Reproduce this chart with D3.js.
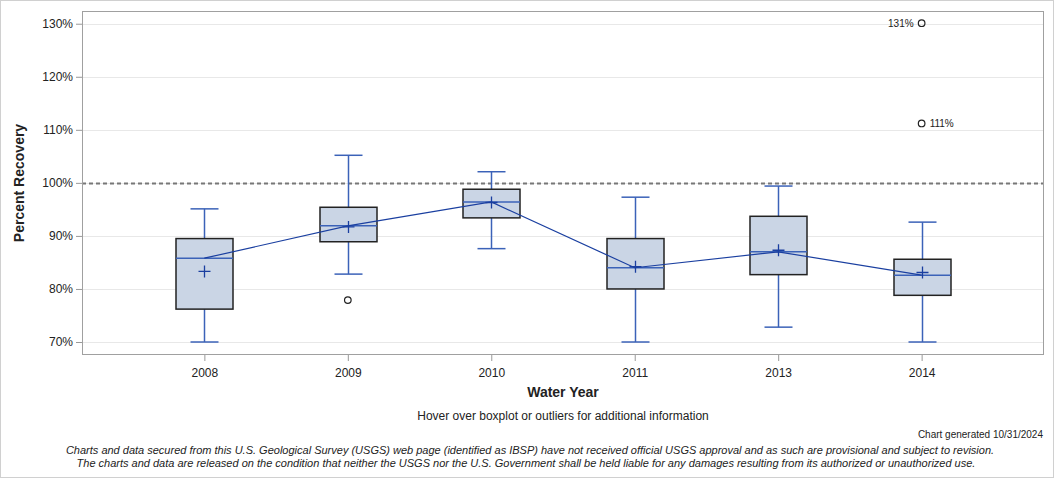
<!DOCTYPE html>
<html><head><meta charset="utf-8">
<script src="https://cdn.jsdelivr.net/npm/d3@7"></script>
<style>body{margin:0;background:#fff;font-family:"Liberation Sans",Arial,sans-serif;}</style>
</head><body><svg id="c" width="1056" height="480"></svg>
<script>
const categories = ["2008","2009","2010","2011","2013","2014"];
const whiskerLow  = [70.0, 82.8, 87.6, 70.0, 72.8, 70.0];
const q1          = [76.2, 88.9, 93.4, 80.0, 82.7, 78.8];
const medians     = [85.8, 91.9, 96.4, 84.0, 87.0, 82.6];
const q3          = [89.5, 95.4, 98.8, 89.5, 93.7, 85.6];
const whiskerHigh = [95.1, 105.2, 102.1, 97.3, 99.4, 92.6];
const means       = [83.3, 91.7, 96.3, 84.2, 87.3, 83.1];
const outlierCat   = ["2009", "2014", "2014"];
const outlierVal   = [77.9, 130.1, 111.2];
const outlierLabel = ["", "131%", "111%"];
const outlierSide  = ["", "left", "right"];
const yTicks = [70, 80, 90, 100, 110, 120, 130];

const svg = d3.select("#c");
const L = 82, R = 1044, T = 11, B = 355;
const x = d3.scalePoint().domain(categories).range([L, R]).padding(0.853);
const y = d3.scaleLinear().domain([67.55, 132.4]).range([B, T]);

// outer border
svg.append("rect").attr("x",0.5).attr("y",0.5).attr("width",1053).attr("height",477)
  .attr("fill","none").attr("stroke","#d0d0d0");

// gridlines
svg.append("g").selectAll("line").data(yTicks).join("line")
  .attr("x1",L).attr("x2",R).attr("y1",d=>Math.round(y(d))+0.5).attr("y2",d=>Math.round(y(d))+0.5)
  .attr("stroke","#e8e8e8").attr("stroke-width",1);

// reference line 100%
svg.append("line").attr("x1",L).attr("x2",R).attr("y1",Math.round(y(100))+0.5).attr("y2",Math.round(y(100))+0.5)
  .attr("stroke","#777").attr("stroke-width",2).attr("stroke-dasharray","4,3");

// axes
const yAxis = d3.axisLeft(y).tickValues(yTicks).tickFormat(d=>d+"%").tickSizeOuter(0).tickSize(6);
const gy = svg.append("g").attr("transform",`translate(${L},0)`).call(yAxis);
gy.select(".domain").remove();
gy.selectAll(".tick line").attr("stroke","#999");
gy.selectAll(".tick text").attr("font-size",12).attr("fill","#222").attr("font-family","Liberation Sans, Arial, sans-serif").attr("x",-9);

const xAxis = d3.axisBottom(x).tickSizeOuter(0).tickSize(6);
const gx = svg.append("g").attr("transform",`translate(0,${B})`).call(xAxis);
gx.select(".domain").remove();
gx.selectAll(".tick line").attr("stroke","#999");
gx.selectAll(".tick text").attr("font-size",12).attr("fill","#222").attr("font-family","Liberation Sans, Arial, sans-serif").attr("dy","1.1em");

// frame
svg.append("rect").attr("x",L+0.5).attr("y",T+0.5).attr("width",R-L-1).attr("height",B-T-1)
  .attr("fill","none").attr("stroke","#a0a0a0");

const boxW = 57, capW = 28;
const whiskColor = "#3b62b8", lineColor = "#1a3fa0";
const g = svg.append("g");
categories.forEach((c,i)=>{
  const cx = Math.round(x(c))+0.5;
  // whiskers
  g.append("line").attr("x1",cx).attr("x2",cx).attr("y1",y(q3[i])).attr("y2",y(whiskerHigh[i])).attr("stroke",whiskColor).attr("stroke-width",1.5);
  g.append("line").attr("x1",cx).attr("x2",cx).attr("y1",y(q1[i])).attr("y2",y(whiskerLow[i])).attr("stroke",whiskColor).attr("stroke-width",1.5);
  g.append("line").attr("x1",cx-capW/2).attr("x2",cx+capW/2).attr("y1",y(whiskerHigh[i])).attr("y2",y(whiskerHigh[i])).attr("stroke",whiskColor).attr("stroke-width",1.5);
  g.append("line").attr("x1",cx-capW/2).attr("x2",cx+capW/2).attr("y1",y(whiskerLow[i])).attr("y2",y(whiskerLow[i])).attr("stroke",whiskColor).attr("stroke-width",1.5);
  // box
  g.append("rect").attr("x",cx-boxW/2).attr("y",y(q3[i])).attr("width",boxW).attr("height",y(q1[i])-y(q3[i]))
    .attr("fill","#cad5e5").attr("stroke","#222").attr("stroke-width",1.5);
  // median
  g.append("line").attr("x1",cx-boxW/2).attr("x2",cx+boxW/2).attr("y1",y(medians[i])).attr("y2",y(medians[i])).attr("stroke",whiskColor).attr("stroke-width",1.5);
  // mean +
  const my = y(means[i]);
  g.append("path").attr("d",`M${cx-6},${my}H${cx+6}M${cx},${my-6}V${my+6}`).attr("stroke",lineColor).attr("stroke-width",1.3).attr("fill","none");
});

// median connecting line
svg.append("path").datum(categories.map((c,i)=>[x(c),y(medians[i])]))
  .attr("d",d3.line()).attr("fill","none").attr("stroke",lineColor).attr("stroke-width",1.2);

// outliers
outlierCat.forEach((c,i)=>{
  const cx = x(c), cy = y(outlierVal[i]);
  svg.append("circle").attr("cx",cx).attr("cy",cy).attr("r",3.3).attr("fill","none").attr("stroke","#222").attr("stroke-width",1.2);
  if(outlierLabel[i]){
    const left = outlierSide[i]==="left";
    svg.append("text").attr("x", left? cx-8 : cx+8).attr("y",cy+3.5)
      .attr("text-anchor", left?"end":"start").attr("font-size",10).attr("fill","#222").text(outlierLabel[i]);
  }
});

// titles
svg.append("text").attr("x",(L+R)/2).attr("y",397).attr("text-anchor","middle").attr("font-size",14).attr("font-weight","bold").attr("fill","#222").text("Water Year");
svg.append("text").attr("transform",`translate(24,${(T+B)/2}) rotate(-90)`).attr("text-anchor","middle").attr("font-size",14).attr("font-weight","bold").attr("fill","#222").text("Percent Recovery");
svg.append("text").attr("x",563).attr("y",420).attr("text-anchor","middle").attr("font-size",12).attr("fill","#222").text("Hover over boxplot or outliers for additional information");
svg.append("text").attr("x",1043).attr("y",438).attr("text-anchor","end").attr("font-size",10).attr("fill","#222").text("Chart generated 10/31/2024");
svg.append("text").attr("x",530).attr("y",454).attr("text-anchor","middle").attr("font-size",11).attr("font-style","italic").attr("fill","#222")
  .text("Charts and data secured from this U.S. Geological Survey (USGS) web page (identified as IBSP) have not received official USGS approval and as such are provisional and subject to revision.");
svg.append("text").attr("x",526).attr("y",467).attr("text-anchor","middle").attr("font-size",11).attr("font-style","italic").attr("fill","#222")
  .text("The charts and data are released on the condition that neither the USGS nor the U.S. Government shall be held liable for any damages resulting from its authorized or unauthorized use.");
</script></body></html>
